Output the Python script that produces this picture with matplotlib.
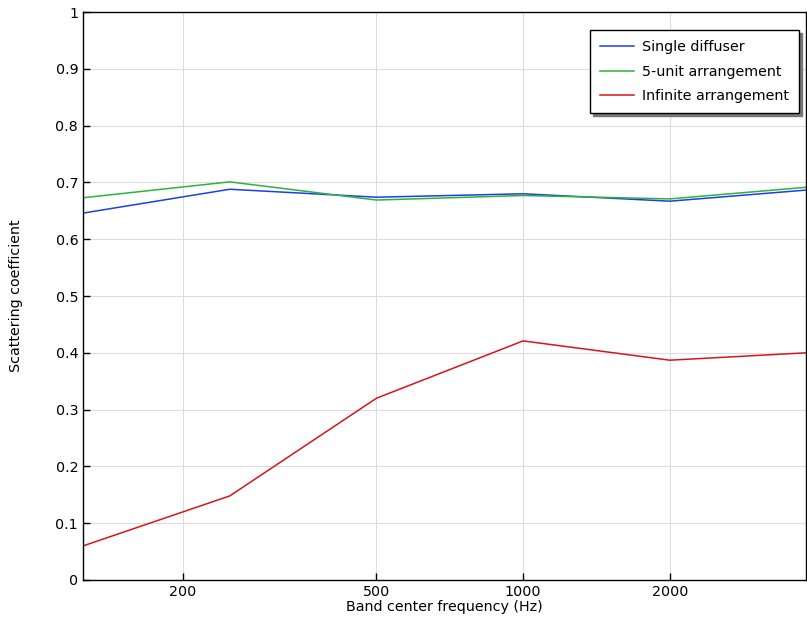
import matplotlib
matplotlib.use("Agg")
import matplotlib.pyplot as plt
from matplotlib.ticker import FixedLocator, NullLocator, FixedFormatter

# octave band centre frequencies (Hz)
freq = [125, 250, 500, 1000, 2000, 4000]

single_diffuser = [0.646, 0.688, 0.674, 0.680, 0.667, 0.688]
five_unit = [0.673, 0.701, 0.669, 0.677, 0.671, 0.693]
infinite = [0.060, 0.148, 0.320, 0.421, 0.387, 0.401]

x_ticks = [200, 500, 1000, 2000]
x_tick_labels = ["200", "500", "1000", "2000"]
y_ticks = [0, 0.1, 0.2, 0.3, 0.4, 0.5, 0.6, 0.7, 0.8, 0.9, 1]
y_tick_labels = ["0", "0.1", "0.2", "0.3", "0.4", "0.5", "0.6", "0.7", "0.8", "0.9", "1"]

fs = 10.3

fig = plt.figure(figsize=(8.07, 6.18), dpi=100)
ax = fig.add_axes([0.1029, 0.0615, 0.8961, 0.919])

ax.plot(freq, single_diffuser, color="#1c3fe6", lw=1.1, label="Single diffuser")
ax.plot(freq, five_unit, color="#2db33a", lw=1.1, label="5-unit arrangement")
ax.plot(freq, infinite, color="#d8141b", lw=1.1, label="Infinite arrangement")

ax.set_xscale("log")
ax.set_xlim(125, 3810)
ax.set_ylim(0, 1)

ax.xaxis.set_major_locator(FixedLocator(x_ticks))
ax.xaxis.set_major_formatter(FixedFormatter(x_tick_labels))
ax.xaxis.set_minor_locator(NullLocator())
ax.set_yticks(y_ticks)
ax.set_yticklabels(y_tick_labels)

ax.tick_params(direction="in", length=5, width=1, labelsize=fs, colors="black")
ax.grid(True, color="#dddddd", lw=0.8)
ax.set_axisbelow(True)
for s in ax.spines.values():
    s.set_linewidth(1.0)

ax.set_xlabel("Band center frequency (Hz)", fontsize=fs, labelpad=1)
ax.set_ylabel("Scattering coefficient", fontsize=fs, labelpad=23)

leg = ax.legend(loc="upper right", bbox_to_anchor=(0.990, 0.968), borderaxespad=0,
                fontsize=fs, fancybox=False, shadow={"color": "#777777", "alpha": 1.0},
                edgecolor="black", framealpha=1, borderpad=0.7, handlelength=2.4,
                handletextpad=0.55, labelspacing=0.72)
leg.get_frame().set_linewidth(1.0)

fig.savefig("out.png", dpi=100)
